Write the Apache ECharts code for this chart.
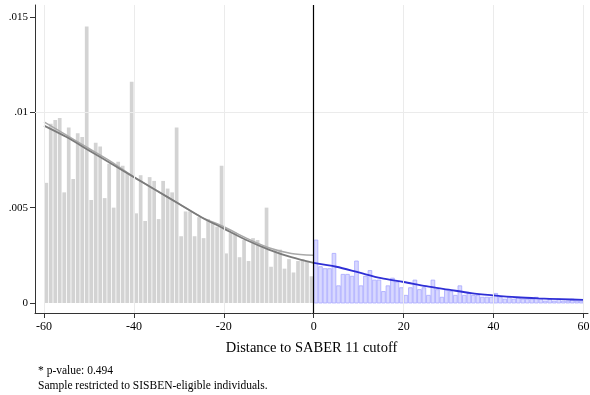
<!DOCTYPE html>
<html>
<head>
<meta charset="utf-8">
<script src="https://cdn.jsdelivr.net/npm/echarts@6/dist/echarts.min.js"></script>
<style>
  html, body { margin: 0; padding: 0; background: #fff; }
  #chart { width: 590px; height: 395px; }
</style>
</head>
<body>
<div id="chart"></div>
<script>
// Histogram densities, one bin per point of distance to the cutoff
const leftFirstBin = -60;   // bins [-60,-59) ... [-1,0)
const rightFirstBin = 0;    // bins [0,1) ... [59,60)
const binWidth = 1;

const leftDensity = [
  0.0063, 0.0094, 0.0096, 0.0097, 0.0058, 0.0092, 0.0065, 0.0089, 0.0087, 0.0145,
  0.0054, 0.0084, 0.0082, 0.0055, 0.0073, 0.0050, 0.0074, 0.0072, 0.0068, 0.0116,
  0.0047, 0.0067, 0.0043, 0.0066, 0.0064, 0.0044, 0.0064, 0.0060, 0.0058, 0.0092,
  0.0035, 0.0048, 0.0048, 0.0035, 0.0045, 0.0034, 0.0044, 0.0042, 0.0040, 0.0072,
  0.0026, 0.0037, 0.0037, 0.0024, 0.0033, 0.0022, 0.0034, 0.0033, 0.0030, 0.0050,
  0.0019, 0.0028, 0.0028, 0.0018, 0.0023, 0.0016, 0.0022, 0.0023, 0.0022, 0.0014
];

const rightDensity = [
  0.0033, 0.0019, 0.0018, 0.0018, 0.0026, 0.0009, 0.0015, 0.0015, 0.0014, 0.0022,
  0.0009, 0.0014, 0.0017, 0.0012, 0.0012, 0.0006, 0.0009, 0.0013, 0.0011, 0.0008,
  0.0004, 0.0008, 0.0012, 0.0007, 0.0008, 0.0004, 0.0012, 0.0007, 0.0003, 0.0007,
  0.0006, 0.0004, 0.0009, 0.0004, 0.0005, 0.0004, 0.0004, 0.0003, 0.0003, 0.0003,
  0.0005, 0.0003, 0.0002, 0.0003, 0.0002, 0.0003, 0.0002, 0.0002, 0.0002, 0.0003,
  0.0002, 0.0001, 0.0002, 0.0001, 0.0002, 0.0001, 0.0001, 0.0002, 0.0001, 0.0001
];

// Fitted densities on each side of the cutoff
const fitLeftX  = [-60, -55, -50, -45, -40, -35, -30, -25, -20, -15, -10, -5, 0];
const fitLeftY  = [0.0093, 0.0087, 0.0080, 0.0073, 0.0066, 0.0059, 0.0052, 0.0045, 0.0039, 0.0033, 0.0028, 0.0024, 0.0021];
const fitLeftY2 = [0.0095, 0.0088, 0.0081, 0.0074, 0.0066, 0.0059, 0.0052, 0.0045, 0.0040, 0.0034, 0.0029, 0.0026, 0.0025];
const fitRightX = [0, 5, 10, 15, 20, 25, 30, 35, 40, 45, 50, 55, 60];
const fitRightY = [0.0021, 0.0019, 0.0016, 0.0013, 0.0011, 0.00088, 0.0007, 0.00052, 0.0004, 0.0003, 0.00024, 0.0002, 0.00016];

// Axis ticks
const xTicks = [-60, -40, -20, 0, 20, 40, 60];
const yTicks = [0, 0.005, 0.01, 0.015];

const xTitle = 'Distance to SABER 11 cutoff';
const noteLines = ['* p-value: 0.494', 'Sample restricted to SISBEN-eligible individuals.'];

const SERIF = '"Liberation Serif", "DejaVu Serif", serif';

function binRows(first, values) {
  return values.map((v, i) => [first + i * binWidth, first + (i + 1) * binWidth, v]);
}

function binRenderer(fill, stroke) {
  return function (params, api) {
    const top = api.coord([api.value(0), api.value(2)]);
    const base = api.coord([api.value(1), 0]);
    return {
      type: 'rect',
      shape: { x: top[0] + 0.4, y: top[1], width: base[0] - top[0] - 0.8, height: base[1] - top[1] },
      style: { fill: fill, stroke: stroke, lineWidth: stroke ? 0.8 : 0 }
    };
  };
}

const gridLineData = xTicks.filter(v => v !== 0).map(v => ({ xAxis: v }))
  .concat(yTicks.filter(v => v !== 0).map(v => ({ yAxis: v })));

const chart = echarts.init(document.getElementById('chart'), null, { renderer: 'canvas' });

chart.setOption({
  animation: false,
  backgroundColor: '#ffffff',
  grid: { left: 35, right: 2, top: 5, bottom: 82, containLabel: false, outerBoundsMode: 'none' },
  xAxis: {
    type: 'value',
    min: -62,
    max: 61,
    interval: 1,
    axisLine: { show: true, onZero: false, lineStyle: { color: '#333', width: 1 } },
    axisTick: { show: true, length: 5, customValues: xTicks, lineStyle: { color: '#333' } },
    axisLabel: { customValues: xTicks, color: '#000', fontFamily: SERIF, fontSize: 12, margin: 8,
                 formatter: v => String(v) },
    splitLine: { show: false },
    name: xTitle,
    nameLocation: 'middle',
    nameGap: 28,
    nameTextStyle: { color: '#000', fontFamily: SERIF, fontSize: 14.5 }
  },
  yAxis: {
    type: 'value',
    min: -0.000525,
    max: 0.015625,
    interval: 0.000025,
    axisLine: { show: true, onZero: false, lineStyle: { color: '#333', width: 1 } },
    axisTick: { show: true, length: 5, customValues: yTicks, lineStyle: { color: '#333' } },
    axisLabel: { customValues: yTicks, color: '#000', fontFamily: SERIF, fontSize: 11, margin: 7,
                 formatter: v => (v === 0 ? '0' : String(+v.toFixed(4)).replace(/^0/, '')) },
    splitLine: { show: false }
  },
  graphic: noteLines.map((t, i) => ({
    type: 'text',
    left: 38,
    top: 365 + i * 15,
    style: { text: t, fill: '#000', font: '11.5px ' + SERIF }
  })),
  series: [
    {
      name: 'grid',
      type: 'line',
      data: [],
      silent: true,
      z: 0,
      markLine: {
        silent: true,
        symbol: 'none',
        label: { show: false },
        lineStyle: { color: '#ebebeb', width: 1, type: 'solid' },
        data: gridLineData
      }
    },
    {
      name: 'below',
      type: 'custom',
      renderItem: binRenderer('#d3d3d3', null),
      data: binRows(leftFirstBin, leftDensity),
      encode: { x: [0, 1], y: 2 },
      z: 2
    },
    {
      name: 'above',
      type: 'custom',
      renderItem: binRenderer('#d8d8ff', '#a8a8ff'),
      data: binRows(rightFirstBin, rightDensity),
      encode: { x: [0, 1], y: 2 },
      z: 2
    },
    {
      name: 'fit below (outer)',
      type: 'line',
      data: fitLeftX.map((x, i) => [x, fitLeftY2[i]]),
      smooth: 0.3,
      symbol: 'none',
      lineStyle: { color: '#a9a9a9', width: 1.5 },
      z: 3
    },
    {
      name: 'fit below',
      type: 'line',
      data: fitLeftX.map((x, i) => [x, fitLeftY[i]]),
      smooth: 0.3,
      symbol: 'none',
      lineStyle: { color: '#7b7b7b', width: 1.8 },
      z: 4
    },
    {
      name: 'fit above',
      type: 'line',
      data: fitRightX.map((x, i) => [x, fitRightY[i]]),
      smooth: 0.3,
      symbol: 'none',
      lineStyle: { color: '#2f2fd6', width: 1.8 },
      z: 4
    },
    {
      name: 'cutoff',
      type: 'line',
      data: [],
      silent: true,
      z: 5,
      markLine: {
        silent: true,
        symbol: 'none',
        label: { show: false },
        lineStyle: { color: '#000', width: 1.2, type: 'solid' },
        data: [{ xAxis: 0 }]
      }
    }
  ]
});
</script>
</body>
</html>
